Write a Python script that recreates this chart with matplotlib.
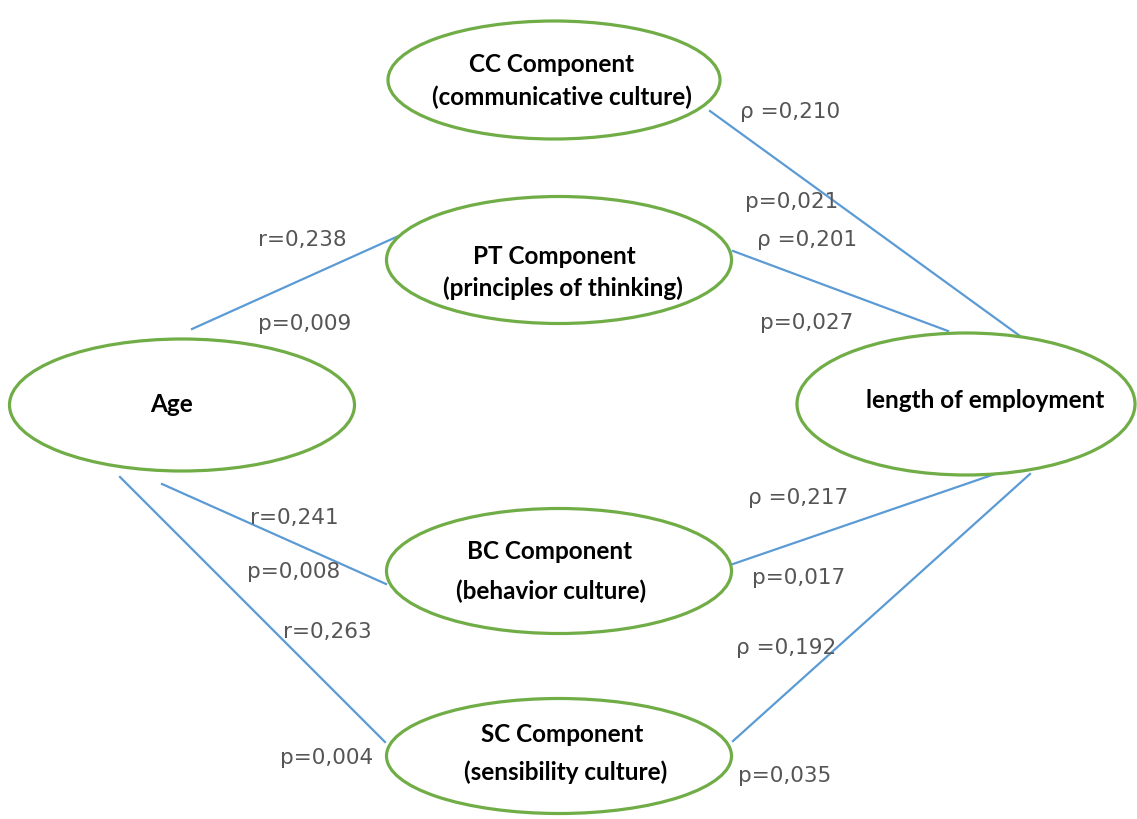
import matplotlib
matplotlib.use('Agg')
from matplotlib import pyplot as plt
from matplotlib.patches import Ellipse

# node labels (one entry per text line)
nodes = ['CC', 'PT', 'Age', 'LE', 'BC', 'SC']
node_lines = {
    'CC': ['CC Component', '(communicative culture)'],
    'PT': ['PT Component', '(principles of thinking)'],
    'Age': ['Age'],
    'LE': ['length of employment'],
    'BC': ['BC Component', '(behavior culture)'],
    'SC': ['SC Component', '(sensibility culture)'],
}

# correlation labels
stat_text = ['ρ =0,210', 'p=0,021', 'ρ =0,201', 'r=0,238', 'p=0,009', 'p=0,027',
             'ρ =0,217', 'r=0,241', 'p=0,008', 'p=0,017', 'r=0,263', 'ρ =0,192',
             'p=0,004', 'p=0,035']

# layout (pixel coords, y downward)
node_pos = {
    'CC': (554, 81, 332, 118),
    'PT': (559, 261, 345, 127),
    'Age': (182, 406, 345, 132),
    'LE': (966, 405, 338, 142),
    'BC': (559, 572, 345, 125),
    'SC': (559, 757, 345, 115),
}
line_xy = {
    'CC': [(552, 65), (562, 97)],
    'PT': [(554, 256), (563, 288)],
    'Age': [(172, 405)],
    'LE': [(985, 401)],
    'BC': [(550, 552), (551, 591)],
    'SC': [(562, 735), (566, 772)],
}
edges = [
    ((192, 330), (403, 235)),
    ((162, 485), (386, 585)),
    ((120, 478), (385, 743)),
    ((710, 112), (1020, 337)),
    ((733, 252), (948, 332)),
    ((733, 565), (995, 475)),
    ((733, 742), (1030, 475)),
]
stat_pos = [(740, 112), (745, 202), (757, 240), (258, 240), (258, 324), (760, 323),
            (748, 498), (250, 518), (247, 572), (752, 578), (283, 632), (736, 648),
            (280, 758), (738, 776)]

fig = plt.figure(figsize=(11.37, 8.20), dpi=100)
ax = fig.add_axes([0, 0, 1, 1])
ax.set_xlim(0, 1137)
ax.set_ylim(820, 0)
ax.axis('off')

for (x0, y0), (x1, y1) in edges:
    ax.plot([x0, x1], [y0, y1], color='#5b9bd5', linewidth=1.6, zorder=1)

for n in nodes:
    cx, cy, w, h = node_pos[n]
    ax.add_patch(Ellipse((cx, cy), w, h, facecolor='white', edgecolor='#70ad47',
                         linewidth=2.3, zorder=2))
    for line, (x, y) in zip(node_lines[n], line_xy[n]):
        ax.text(x, y, line, ha='center', va='center', fontsize=17.5,
                fontweight='bold', family='Lato', zorder=3)

for t, (x, y) in zip(stat_text, stat_pos):
    ax.text(x, y, t, ha='left', va='center', fontsize=15.5, color='#555555',
            family='DejaVu Sans', zorder=3)

fig.savefig('out.png', dpi=100)
